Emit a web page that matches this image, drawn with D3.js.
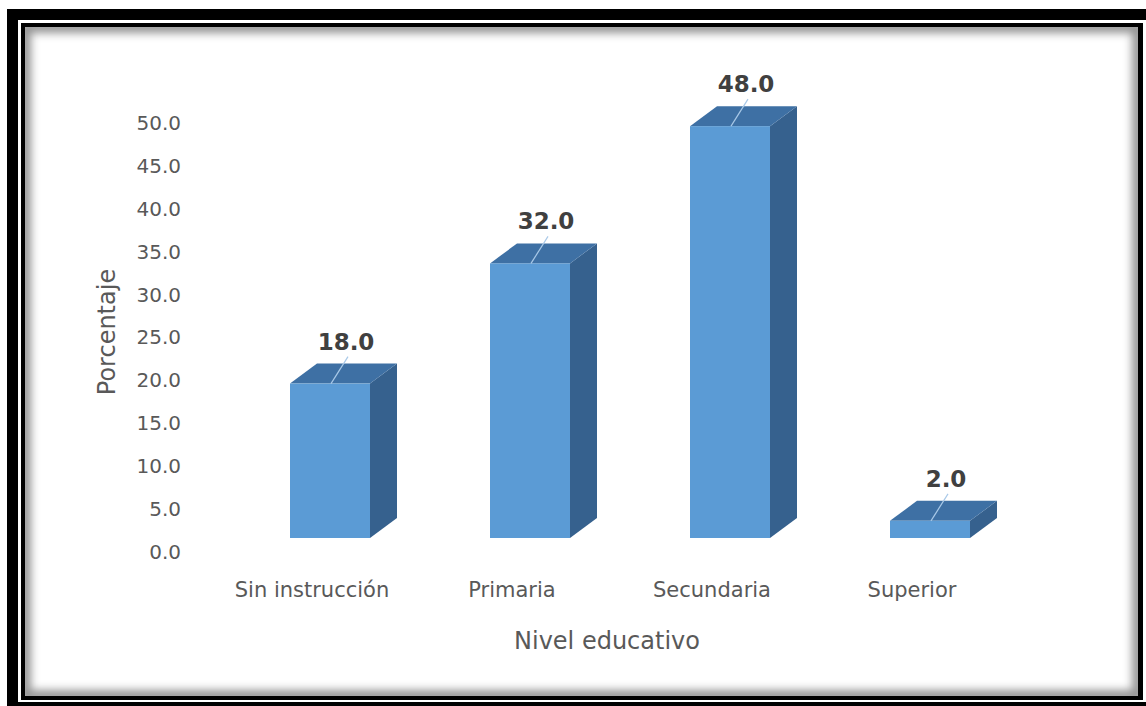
<!DOCTYPE html>
<html>
<head>
<meta charset="utf-8">
<script src="https://cdn.jsdelivr.net/npm/d3@7"></script>
<style>
  body { margin: 0; background: #fff; }
  svg { display: block; }
  text { font-family: "DejaVu Sans", sans-serif; }
</style>
</head>
<body>
<svg id="chart" width="1146" height="706"></svg>
<script>
// Nivel educativo (porcentaje)
const categories = ["Sin instrucción", "Primaria", "Secundaria", "Superior"];
const values = [18.0, 32.0, 48.0, 2.0];
const tickValues = [0, 5, 10, 15, 20, 25, 30, 35, 40, 45, 50];
const yTitle = "Porcentaje";
const xTitle = "Nivel educativo";

const svg = d3.select("#chart");

// ---- double black frame with an inset shadow ----
svg.append("rect").attr("x", 7).attr("y", 9).attr("width", 1200).attr("height", 700).attr("fill", "#000");
svg.append("rect").attr("x", 18).attr("y", 20).attr("width", 1200).attr("height", 682).attr("fill", "#fff");
svg.append("rect").attr("x", 21).attr("y", 23).attr("width", 1122).attr("height", 677).attr("fill", "#000");
svg.append("rect").attr("x", 25).attr("y", 27).attr("width", 1113).attr("height", 669).attr("fill", "#fff");

const defs = svg.append("defs");
defs.append("clipPath").attr("id", "inner")
  .append("rect").attr("x", 25).attr("y", 27).attr("width", 1113).attr("height", 669);
defs.append("filter").attr("id", "soft").attr("x", "-5%").attr("y", "-5%").attr("width", "110%").attr("height", "110%")
  .append("feGaussianBlur").attr("stdDeviation", 4);
svg.append("g").attr("clip-path", "url(#inner)")
  .append("rect").attr("x", 25).attr("y", 27).attr("width", 1113).attr("height", 669)
  .attr("fill", "none").attr("stroke", "#000").attr("stroke-opacity", 0.42)
  .attr("stroke-width", 12).attr("filter", "url(#soft)");

// ---- scales ----
const y = d3.scaleLinear().domain([0, 50]).range([552, 123]);
const x = d3.scaleBand().domain(categories).range([230, 1030])
  .paddingInner(0.6).paddingOuter(0.3);

// 3D offsets: front face sits slightly above the axis plane, depth goes up-right
const lift = -14;
const dx = 27, dy = -20;

// ---- value axis ----
const yAxis = d3.axisLeft(y).tickValues(tickValues).tickFormat(d3.format(".1f")).tickSize(0).tickPadding(0);
const ga = svg.append("g").attr("transform", "translate(181,0)").call(yAxis);
ga.select(".domain").remove();
ga.selectAll("text").attr("font-size", 20).attr("fill", "#595959")
  .attr("font-family", "\"DejaVu Sans\", sans-serif");

// ---- bars ----
const bars = svg.append("g").selectAll("g").data(values).join("g");
const pts = a => a.map(p => p.join(",")).join(" ");

bars.each(function (v, i) {
  const g = d3.select(this);
  const x0 = x(categories[i]);
  const x1 = x0 + x.bandwidth();
  const yt = y(v) + lift;
  const yb = y(0) + lift;
  // side
  g.append("polygon").attr("points", pts([[x1, yt], [x1 + dx, yt + dy], [x1 + dx, yb + dy], [x1, yb]]))
    .attr("fill", "#36618E");
  // top
  g.append("polygon").attr("points", pts([[x0, yt], [x0 + dx, yt + dy], [x1 + dx, yt + dy], [x1, yt]]))
    .attr("fill", "#3E70A4");
  // front
  g.append("rect").attr("x", x0).attr("y", yt).attr("width", x.bandwidth()).attr("height", yb - yt)
    .attr("fill", "#5B9BD5");
  // leader line toward the data label
  const cx = x0 + x.bandwidth() / 2;
  g.append("line").attr("x1", cx + 1).attr("y1", yt).attr("x2", cx + 18).attr("y2", yt - 27)
    .attr("stroke", "#A9C9E8").attr("stroke-width", 1.2);
  // data label
  g.append("text").attr("x", cx + 16).attr("y", yt + dy - 14)
    .attr("text-anchor", "middle").attr("font-size", 23).attr("font-weight", "bold")
    .attr("fill", "#404040").text(d3.format(".1f")(v));
});

// ---- category labels ----
svg.append("g").selectAll("text").data(categories).join("text")
  .attr("x", d => x(d) + x.bandwidth() / 2 - 18)
  .attr("y", 597)
  .attr("text-anchor", "middle").attr("font-size", 21).attr("fill", "#595959")
  .text(d => d);

// ---- axis titles ----
svg.append("text").attr("x", 607).attr("y", 649).attr("text-anchor", "middle")
  .attr("font-size", 24).attr("fill", "#595959").text(xTitle);
svg.append("text").attr("transform", "translate(115,332) rotate(-90)").attr("text-anchor", "middle")
  .attr("font-size", 24).attr("fill", "#595959").text(yTitle);
</script>
</body>
</html>
